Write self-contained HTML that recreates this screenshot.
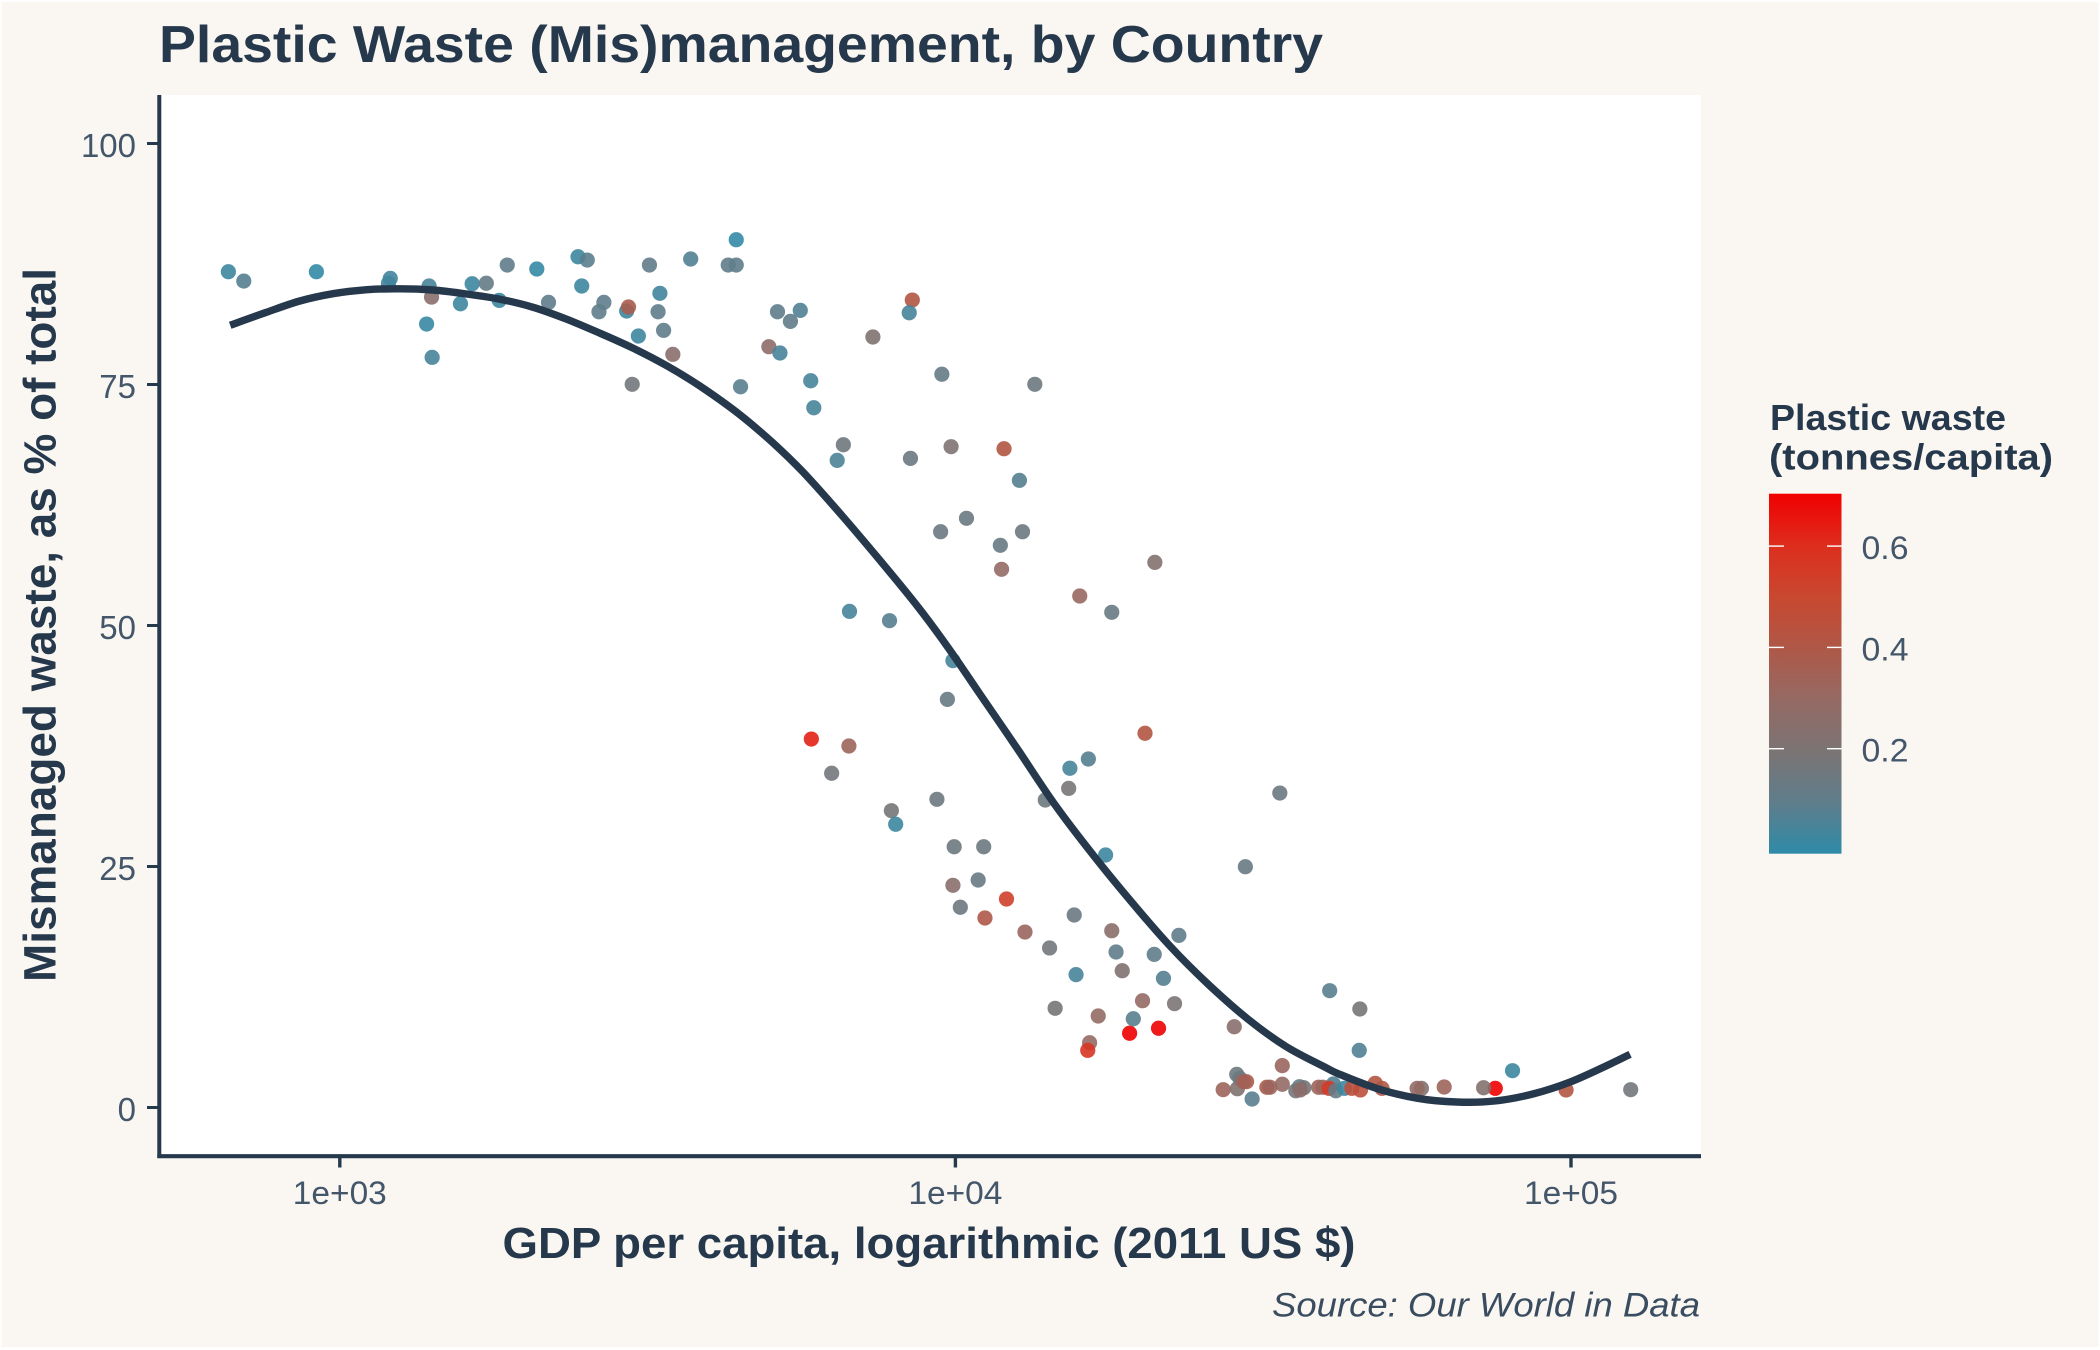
<!DOCTYPE html>
<html lang="en">
<head>
<meta charset="utf-8">
<title>Plastic Waste (Mis)management, by Country</title>
<style>
html,body{margin:0;padding:0;background:#fff;}
svg{display:block;}
text{font-family:"Liberation Sans",sans-serif;}
</style>
</head>
<body>
<svg id="chart" xmlns="http://www.w3.org/2000/svg" width="2100" height="1350" viewBox="0 0 2100 1350">
  <defs>
    <linearGradient id="legendGradient" x1="0" y1="1" x2="0" y2="0"></linearGradient>
  </defs>
  <rect x="1.5" y="2" width="2097" height="1345" fill="#FAF7F2"/>
  <rect x="160" y="95" width="1541" height="1060" fill="#FFFFFF"/>
  <g id="points"></g>
  <path id="trend" fill="none" stroke="#26384C" stroke-width="7.4" stroke-linejoin="round" stroke-linecap="butt"/>
  <g id="yAxis">
    <line x1="159.3" y1="95" x2="159.3" y2="1158" stroke="#26384C" stroke-width="4"/>
  </g>
  <g id="xAxis">
    <line x1="157.3" y1="1156.2" x2="1701" y2="1156.2" stroke="#26384C" stroke-width="4.2"/>
  </g>
  <text x="159" y="62" font-size="52" font-weight="700" fill="#26384C" textLength="1164" lengthAdjust="spacingAndGlyphs">Plastic Waste (Mis)management, by Country</text>
  <text transform="translate(55.5,982) rotate(-90)" font-size="45" font-weight="700" fill="#26384C" textLength="714" lengthAdjust="spacingAndGlyphs">Mismanaged waste, as % of total</text>
  <text x="502.5" y="1258" font-size="44" font-weight="700" fill="#26384C" textLength="853" lengthAdjust="spacingAndGlyphs">GDP per capita, logarithmic (2011 US $)</text>
  <text x="1272" y="1316.5" font-size="34" font-style="italic" fill="#3A4C60" textLength="428" lengthAdjust="spacingAndGlyphs">Source: Our World in Data</text>
  <g id="legend">
    <text x="1770" y="430" font-size="36" font-weight="700" fill="#26384C" textLength="236" lengthAdjust="spacingAndGlyphs">Plastic waste</text>
    <text x="1769" y="469.5" font-size="36" font-weight="700" fill="#26384C" textLength="284" lengthAdjust="spacingAndGlyphs">(tonnes/capita)</text>
    <rect id="legendBar" x="1769" y="493.7" width="72.5" height="360" fill="url(#legendGradient)"/>
  </g>
</svg>
<script>
// log10 of GDP per capita (2011 US $)
const log10Gdp = [2.819,2.844,2.962,3.082,3.079,3.145,3.149,3.215,3.238,3.272,3.196,3.259,3.141,3.150,3.320,3.387,3.402,3.393,3.339,3.429,3.421,3.466,3.469,3.503,3.520,3.517,3.526,3.485,3.541,3.475,3.570,3.631,3.644,3.644,3.651,3.711,3.748,3.732,3.697,3.715,3.866,3.930,3.925,3.765,3.770,3.978,4.129,3.818,3.808,3.927,3.993,4.079,4.104,4.018,3.976,4.109,4.073,4.075,4.324,4.202,4.254,3.828,3.893,3.996,3.987,3.766,3.827,3.799,3.896,3.903,3.970,3.998,4.046,3.996,4.037,4.008,4.083,4.048,4.113,4.153,4.193,4.254,4.261,4.271,4.196,4.162,4.232,4.218,4.215,4.283,4.330,4.289,4.304,4.356,4.338,4.323,4.363,4.308,4.216,4.186,4.184,4.146,4.244,4.527,4.471,4.453,4.608,4.531,4.657,4.656,4.905,5.097,4.992,4.877,4.858,4.794,4.757,4.750,4.435,4.458,4.457,4.462,4.473,4.468,4.482,4.506,4.511,4.531,4.553,4.559,4.566,4.560,4.590,4.597,4.614,4.607,4.618,4.632,4.644,4.658,4.682,4.693];
// mismanaged waste, % of total
const mismanagedPct = [86.70,85.73,86.70,86.01,85.50,85.22,84.07,85.45,85.50,87.39,83.38,83.73,81.27,77.82,86.98,88.25,87.91,85.22,83.52,83.52,82.55,82.62,83.04,87.39,84.46,82.55,80.62,80.03,78.13,75.02,88.02,87.39,87.39,90.02,74.77,82.55,82.69,81.55,78.92,78.27,79.93,83.76,82.44,75.39,72.59,76.06,75.02,68.75,67.13,67.34,68.55,68.34,65.06,61.12,59.73,59.73,58.32,55.83,56.55,53.06,51.37,51.47,50.50,46.35,42.34,38.22,37.50,34.67,30.79,29.38,31.97,27.05,27.05,23.05,23.60,20.77,21.63,19.66,18.20,16.55,19.97,18.34,16.13,14.19,13.78,10.29,9.49,6.72,5.93,7.70,8.22,9.21,11.08,10.77,13.40,15.89,17.86,38.82,36.15,35.19,33.11,31.90,26.19,32.62,24.98,8.38,12.12,4.34,10.22,5.93,3.82,1.85,1.82,1.99,2.05,2.13,1.99,1.99,1.85,1.95,3.44,3.03,2.68,2.68,0.88,2.10,2.10,2.41,1.74,2.16,2.05,1.82,2.10,2.10,2.44,1.99,1.74,1.99,1.99,1.82,2.51,1.99];
// plastic waste, tonnes per capita
const plasticWaste = [0.03,0.08,0.01,0.04,0.04,0.05,0.25,0.03,0.12,0.10,0.03,0.03,0.02,0.05,0.015,0.03,0.09,0.03,0.10,0.10,0.10,0.03,0.38,0.11,0.04,0.10,0.10,0.03,0.25,0.17,0.07,0.10,0.10,0.01,0.09,0.10,0.07,0.11,0.27,0.05,0.22,0.42,0.05,0.05,0.05,0.12,0.15,0.16,0.06,0.14,0.21,0.42,0.08,0.14,0.14,0.15,0.13,0.30,0.23,0.31,0.13,0.05,0.08,0.05,0.13,0.63,0.33,0.17,0.18,0.03,0.15,0.15,0.15,0.25,0.13,0.15,0.53,0.40,0.32,0.17,0.14,0.26,0.10,0.22,0.05,0.18,0.30,0.30,0.57,0.70,0.70,0.09,0.30,0.20,0.08,0.10,0.10,0.42,0.08,0.05,0.19,0.15,0.03,0.14,0.13,0.25,0.09,0.32,0.18,0.07,0.03,0.17,0.42,0.70,0.23,0.33,0.23,0.30,0.33,0.22,0.15,0.15,0.38,0.35,0.09,0.38,0.33,0.30,0.17,0.12,0.18,0.27,0.33,0.33,0.07,0.55,0.12,0.03,0.45,0.45,0.42,0.40];
// smoothed trend
const trendLog10Gdp = [2.822,2.881,2.935,2.989,3.044,3.098,3.152,3.206,3.260,3.314,3.369,3.423,3.477,3.531,3.585,3.647,3.703,3.752,3.815,3.877,3.939,3.989,4.039,4.102,4.164,4.226,4.288,4.350,4.412,4.475,4.537,4.599,4.627,4.689,4.751,4.814,4.876,4.938,5.000,5.062,5.096];
const trendPct = [81.14,82.49,83.66,84.42,84.83,84.93,84.80,84.39,83.85,83.01,81.76,80.31,78.75,76.95,74.84,72.01,68.98,65.95,61.46,56.79,51.95,47.63,42.97,37.08,31.20,26.02,21.18,16.65,12.71,9.18,6.33,4.23,3.37,1.89,0.95,0.57,0.67,1.40,2.68,4.46,5.52];
// axis ticks
const xTickValues = [3,4,5];
const xTickLabels = ["1e+03","1e+04","1e+05"];
const yTickValues = [0,25,50,75,100];
const legendTickValues = [0.2,0.4,0.6];
const legendTickLabels = ["0.2","0.4","0.6"];
// colour scale knots
const colourKnotValues = [0,0.1,0.2,0.3,0.4,0.5,0.6,0.703];
const colourKnotHex = ["#2E8BA8","#5F7D8B","#7B7474","#956A64","#AE5848","#C84830","#DD2E1E","#F00000"];

const SVG_NS = "http://www.w3.org/2000/svg";
function xScale(l){ return 339.8 + (l - 3) * 615.6; }
function yScale(v){ return 1107.5 - v * 9.64; }
function legendScale(w){ return 748.7 - (w - 0.2) * 506.5; }
function hexToRgb(h){ return [1,3,5].map(function(i){ return parseInt(h.substr(i,2),16); }); }
function colourScale(w){
  var n = colourKnotValues.length;
  if (w <= colourKnotValues[0]) return colourKnotHex[0];
  if (w >= colourKnotValues[n-1]) return colourKnotHex[n-1];
  for (var i = 0; i < n - 1; i++) {
    if (w <= colourKnotValues[i+1]) {
      var t = (w - colourKnotValues[i]) / (colourKnotValues[i+1] - colourKnotValues[i]);
      var a = hexToRgb(colourKnotHex[i]), b = hexToRgb(colourKnotHex[i+1]);
      return "rgb(" + a.map(function(c,k){ return Math.round(c + (b[k]-c)*t); }).join(",") + ")";
    }
  }
}
function make(tag, attrs){
  var el = document.createElementNS(SVG_NS, tag);
  for (var k in attrs) el.setAttribute(k, attrs[k]);
  return el;
}
// Catmull-Rom spline through the trend samples
function smoothPath(xs, ys){
  var d = "M" + xs[0].toFixed(1) + "," + ys[0].toFixed(1);
  var n = xs.length;
  for (var i = 0; i < n - 1; i++) {
    var i0 = Math.max(0, i - 1), i3 = Math.min(n - 1, i + 2), i2 = i + 1;
    var c1x = xs[i] + (xs[i2] - xs[i0]) / 6, c1y = ys[i] + (ys[i2] - ys[i0]) / 6;
    var c2x = xs[i2] - (xs[i3] - xs[i]) / 6, c2y = ys[i2] - (ys[i3] - ys[i]) / 6;
    d += " C" + c1x.toFixed(1) + "," + c1y.toFixed(1) + " " + c2x.toFixed(1) + "," + c2y.toFixed(1) + " " + xs[i2].toFixed(1) + "," + ys[i2].toFixed(1);
  }
  return d;
}

var pointsGroup = document.getElementById("points");
log10Gdp.forEach(function(l, i){
  var dot = make("circle", {cx: xScale(l), cy: yScale(mismanagedPct[i]), r: 7.6, fill: colourScale(plasticWaste[i]), "fill-opacity": 0.9});
  
  
  pointsGroup.appendChild(dot);
});

document.getElementById("trend").setAttribute("d", smoothPath(trendLog10Gdp.map(xScale), trendPct.map(yScale)));

var yAxis = document.getElementById("yAxis");
yTickValues.forEach(function(v){
  var y = yScale(v);
  var tick = make("line", {x1: 147, y1: y, x2: 158, y2: y, stroke: "#26384C", "stroke-width": 3});
  
  
  yAxis.appendChild(tick);
  var label = make("text", {x: 136, y: y + 13.5, "font-size": 33, fill: "#44566A", "text-anchor": "end"});
  
  
  label.textContent = String(v);
  yAxis.appendChild(label);
});

var xAxis = document.getElementById("xAxis");
xTickValues.forEach(function(l, i){
  var x = xScale(l);
  var tick = make("line", {x1: x, y1: 1158, x2: x, y2: 1167.5, stroke: "#26384C", "stroke-width": 3.4});
  
  
  xAxis.appendChild(tick);
  var label = make("text", {x: x - 47, y: 1204, "font-size": 32, fill: "#44566A", textLength: 94, lengthAdjust: "spacingAndGlyphs"});
  
  
  label.textContent = xTickLabels[i];
  xAxis.appendChild(label);
});

var gradient = document.getElementById("legendGradient");
colourKnotValues.forEach(function(w, i){
  gradient.appendChild(make("stop", {offset: (w / 0.703).toFixed(4), "stop-color": colourKnotHex[i]}));
});

var legend = document.getElementById("legend");
legendTickValues.forEach(function(w, i){
  var y = legendScale(w);
  var left = make("line", {x1: 1769, y1: y, x2: 1784, y2: y, stroke: "#FFFFFF", "stroke-width": 1.4});
  
  
  legend.appendChild(left);
  var right = make("line", {x1: 1827, y1: y, x2: 1841.5, y2: y, stroke: "#FFFFFF", "stroke-width": 1.4});
  
  
  legend.appendChild(right);
  var label = make("text", {x: 1861.5, y: y + 13, "font-size": 32, fill: "#44566A", textLength: 47, lengthAdjust: "spacingAndGlyphs"});
  
  
  label.textContent = legendTickLabels[i];
  legend.appendChild(label);
});
</script>
</body>
</html>
